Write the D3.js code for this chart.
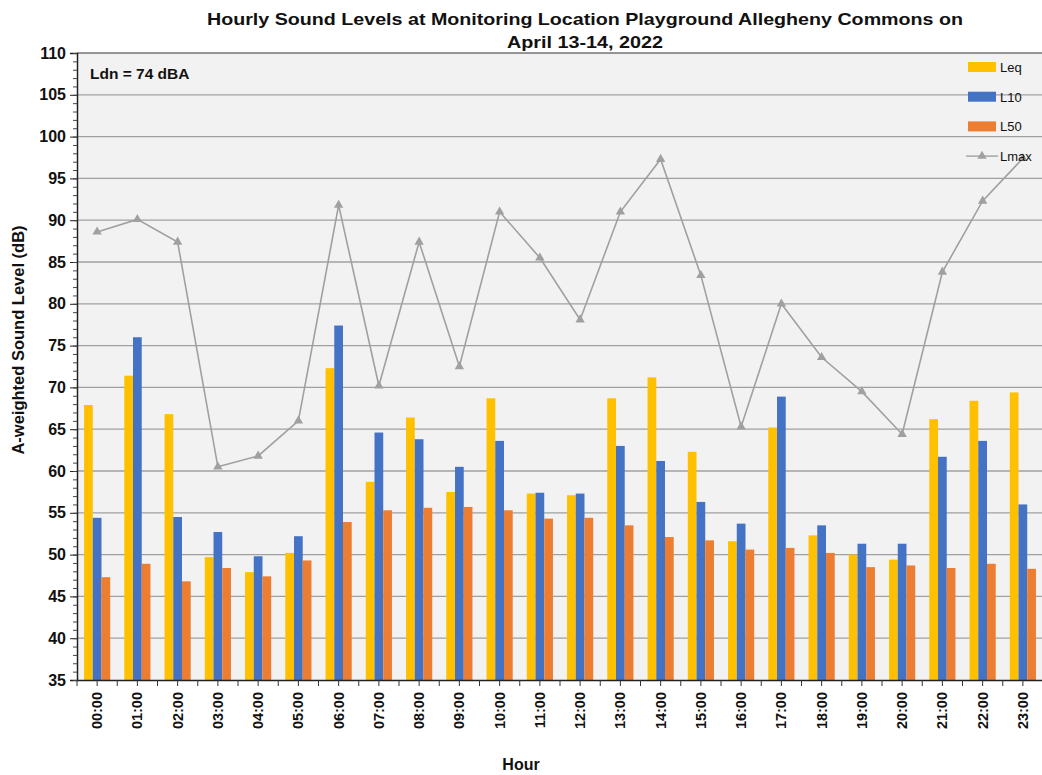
<!DOCTYPE html>
<html><head><meta charset="utf-8">
<script src="https://cdn.jsdelivr.net/npm/d3@7"></script>
<style>body{margin:0;background:#fff}svg{display:block}</style>
</head><body>
<script>
const hours = ["00:00","01:00","02:00","03:00","04:00","05:00","06:00","07:00","08:00","09:00","10:00","11:00","12:00","13:00","14:00","15:00","16:00","17:00","18:00","19:00","20:00","21:00","22:00","23:00"];
const leq  = [67.9,71.4,66.8,49.7,47.9,50.2,72.3,58.7,66.4,57.5,68.7,57.3,57.1,68.7,71.2,62.3,51.6,65.2,52.3,50.0,49.4,66.2,68.4,69.4];
const l10  = [54.4,76.0,54.5,52.7,49.8,52.2,77.4,64.6,63.8,60.5,63.6,57.4,57.3,63.0,61.2,56.3,53.7,68.9,53.5,51.3,51.3,61.7,63.6,56.0];
const l50  = [47.3,48.9,46.8,48.4,47.4,49.3,53.9,55.3,55.6,55.7,55.3,54.3,54.4,53.5,52.1,51.7,50.6,50.8,50.2,48.5,48.7,48.4,48.9,48.3];
const lmax = [88.6,90.1,87.4,60.5,61.8,66.0,91.8,70.2,87.4,72.5,91.0,85.5,78.1,91.0,97.3,83.4,65.3,80.0,73.6,69.5,64.4,83.8,92.3,97.4];
const seriesNames = ["Leq","L10","L50"];
const yTicks = [35,40,45,50,55,60,65,70,75,80,85,90,95,100,105,110];

(function(){
const W = 1042, H = 775;
const pL = 77, pR = 1043, pT = 53, pB = 680;
const colors = {Leq:"#FFC000", L10:"#4472C4", L50:"#ED7D31", Lmax:"#A5A5A5"};
const tf = "Liberation Sans, Arial, sans-serif";

const svg = d3.select("body").append("svg").attr("width", W).attr("height", H);

const x = d3.scaleBand().domain(hours).range([pL, pR]).paddingInner(0.35).paddingOuter(0.175);
const xc = d3.scaleBand().domain(hours).range([pL, pR]);
const y = d3.scaleLinear().domain([35,110]).range([pB, pT]);
const xs = d3.scaleBand().domain(seriesNames).range([0, x.bandwidth()]);

svg.append("rect").attr("x", pL).attr("y", pT).attr("width", pR-pL).attr("height", pB-pT).attr("fill", "#F2F2F2");

svg.append("g").selectAll("line").data(yTicks.filter(d => d>35 && d<110)).join("line")
  .attr("x1", pL).attr("x2", pR).attr("y1", d=>y(d)).attr("y2", d=>y(d))
  .attr("stroke", "#A0A0A0").attr("stroke-width", 1.3);

const data = { Leq: leq, L10: l10, L50: l50 };
seriesNames.forEach(s => {
  svg.append("g").selectAll("rect").data(hours).join("rect")
    .attr("x", (h) => x(h) + xs(s))
    .attr("width", xs.bandwidth())
    .attr("y", (h,i) => y(data[s][i]))
    .attr("height", (h,i) => y(35) - y(data[s][i]))
    .attr("fill", colors[s]);
});

const line = d3.line().x((d,i) => xc(hours[i]) + xc.bandwidth()/2).y(d => y(d));
svg.append("path").datum(lmax).attr("d", line).attr("fill","none").attr("stroke","#A0A0A0").attr("stroke-width",1.6);
const tri = d3.symbol().type(d3.symbolTriangle).size(38);
svg.append("g").selectAll("path").data(lmax).join("path")
  .attr("d", tri)
  .attr("transform", (d,i) => `translate(${xc(hours[i]) + xc.bandwidth()/2},${y(d)})`)
  .attr("fill", "#A0A0A0");

svg.append("line").attr("x1", pL).attr("x2", pR).attr("y1", pT).attr("y2", pT).attr("stroke","#333").attr("stroke-width",1.2);

const yAxis = d3.axisLeft(y).tickValues(yTicks).tickSize(7).tickPadding(4).tickFormat(d3.format("d"));
const ga = svg.append("g").attr("transform", `translate(${pL},0)`).call(yAxis);
ga.select(".domain").attr("stroke","#222").attr("stroke-width",1.5);
ga.selectAll(".tick line").attr("stroke","#222");
ga.selectAll("text").attr("font-family",tf).attr("font-weight","bold").attr("font-size","16px").attr("fill","#111");
const gm = svg.append("g").attr("transform", `translate(${pL},0)`)
  .call(d3.axisLeft(y).tickValues(d3.range(35,111,1)).tickSize(4).tickFormat(""));
gm.select(".domain").remove();
gm.selectAll(".tick line").attr("stroke","#444");

const xAxis = d3.axisBottom(xc).tickSize(0).tickPadding(0);
const gx = svg.append("g").attr("transform", `translate(0,${pB})`).call(xAxis);
gx.select(".domain").attr("stroke","#222").attr("stroke-width",1.5);
gx.selectAll("text")
  .attr("font-family",tf).attr("font-weight","bold").attr("font-size","14.5px").attr("fill","#111")
  .attr("transform","rotate(-90)").attr("text-anchor","end").attr("dx","-12px").attr("dy","0.35em").attr("y",0);
const xtickPos = [];
hours.forEach(h => { xtickPos.push(xc(h)); xtickPos.push(xc(h)+xc.bandwidth()/2); });
svg.append("g").selectAll("line").data(xtickPos).join("line")
  .attr("x1", d=>d).attr("x2", d=>d).attr("y1", pB).attr("y2", pB+6).attr("stroke","#333");

svg.append("text").attr("x", 585).attr("y", 25).attr("text-anchor","middle").attr("font-family",tf).attr("font-weight","bold").attr("font-size","17px").attr("fill","#111")
  .attr("textLength", 756).attr("lengthAdjust","spacingAndGlyphs")
  .text("Hourly Sound Levels at Monitoring Location Playground Allegheny Commons on");
svg.append("text").attr("x", 585).attr("y", 48).attr("text-anchor","middle").attr("font-family",tf).attr("font-weight","bold").attr("font-size","17px").attr("fill","#111")
  .attr("textLength", 156).attr("lengthAdjust","spacingAndGlyphs")
  .text("April 13-14, 2022");
svg.append("text").attr("x", 521).attr("y", 770).attr("text-anchor","middle").attr("font-family",tf).attr("font-weight","bold").attr("font-size","16px").attr("fill","#111").text("Hour");
svg.append("text").attr("transform","translate(24,340) rotate(-90)").attr("text-anchor","middle").attr("font-family",tf).attr("font-weight","bold").attr("font-size","16.5px").attr("fill","#111").text("A-weighted Sound Level (dB)");
svg.append("text").attr("x", 90).attr("y", 79).attr("font-family",tf).attr("font-weight","bold").attr("font-size","15.5px").attr("fill","#111").text("Ldn = 74 dBA");

const legNames = ["Leq","L10","L50","Lmax"];
const lg = svg.append("g");
legNames.forEach((n,i) => {
  const ly = 67 + i*29.7;
  if (n === "Lmax") {
    lg.append("line").attr("x1",966).attr("x2",998).attr("y1",ly).attr("y2",ly).attr("stroke","#A0A0A0").attr("stroke-width",1.4);
    lg.append("path").attr("d", tri).attr("transform",`translate(982,${ly})`).attr("fill","#A0A0A0");
  } else {
    lg.append("rect").attr("x",968).attr("y",ly-5).attr("width",28).attr("height",10).attr("fill",colors[n]);
  }
  lg.append("text").attr("x",1000).attr("y",ly+5).attr("font-family",tf).attr("font-size","13px").attr("fill","#111").text(n);
});
})();
</script>
</body></html>
